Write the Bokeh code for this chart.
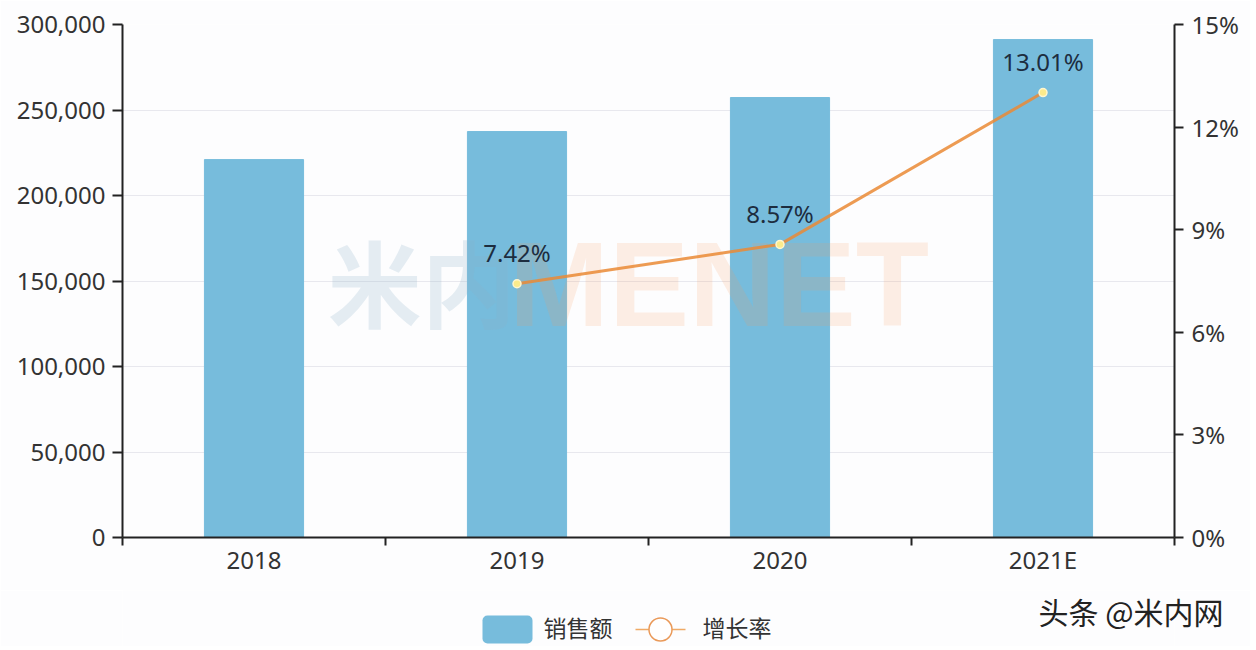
from bokeh.plotting import figure
from bokeh.layouts import column
from bokeh.models import ColumnDataSource, Range1d, LinearAxis, FixedTicker, NumeralTickFormatter
from bokeh.core.properties import value
from bokeh.embed import file_html
from bokeh.resources import INLINE

categories = ["2018", "2019", "2020", "2021E"]
positions = [0.5, 1.5, 2.5, 3.5]
sales = [221000, 237400, 257300, 291200]
growth = [float("nan"), 7.42, 8.57, 13.01]
growth_labels = ["", "7.42%", "8.57%", "13.01%"]
left_ticks = [0, 50000, 100000, 150000, 200000, 250000, 300000]
right_ticks = [0, 3, 6, 9, 12, 15]
slot_edges = [0, 1, 2, 3, 4]
legend_names = ["销售额", "增长率"]

LATIN = "Noto Sans"
CJK = "Noto Sans CJK SC"
INK = "#333333"
AXIS = "#222222"
BAR = "#77bcdc"
LINE = "#ea8a35"
PAGE = "#fdfdfe"

p = figure(width=1250, height=590, output_backend="svg", toolbar_location=None,
           x_range=Range1d(0, 4), y_range=Range1d(0, 300000),
           min_border_left=122, min_border_right=76, min_border_top=24, min_border_bottom=53,
           outline_line_color=None, background_fill_color=PAGE, border_fill_color=PAGE)
p.extra_y_ranges["pct"] = Range1d(0, 15)

src = ColumnDataSource(dict(x=positions, sales=sales, growth=growth, label=growth_labels))

p.vbar(x="x", top="sales", width=0.377, source=src, color=BAR)

# watermark
p.text(x=[0.78], y=[150300], text=["米内"], text_align="left", text_baseline="middle",
       text_font=value(CJK), text_font_style="bold", text_font_size="94px",
       text_color="#8fb0c8", text_alpha=0.22)
p.text(x=[1.47], y=[148000], text=["MENET"], text_align="left", text_baseline="middle",
       text_font=value("Liberation Sans"), text_font_style="bold", text_font_size="120px",
       text_color="#f79a5e", text_alpha=0.16)

p.line(x="x", y="growth", source=src, y_range_name="pct", line_color=LINE, line_width=3,
       line_alpha=0.85)
p.scatter(x="x", y="growth", source=src, y_range_name="pct", size=8, fill_color="#fbeb8c",
          line_color="#fff6d0", line_width=1.5)
p.text(x="x", y="growth", text="label", source=src, y_range_name="pct", y_offset=-31,
       text_align="center", text_baseline="middle", text_color="#1d2d3f",
       text_font=value(LATIN), text_font_size="24px")

xa = p.xaxis[0]
xa.ticker = FixedTicker(ticks=positions, minor_ticks=slot_edges)
xa.major_label_overrides = {pos: cat for pos, cat in zip(positions, categories)}
xa.major_tick_line_color = None
xa.major_tick_out = 0
xa.major_tick_in = 0
xa.minor_tick_out = 8
xa.minor_tick_in = 0
xa.minor_tick_line_color = AXIS
xa.minor_tick_line_width = 2
xa.axis_line_color = AXIS
xa.axis_line_width = 2
xa.major_label_standoff = -3
xa.major_label_text_font = LATIN
xa.major_label_text_font_size = "24px"
xa.major_label_text_color = INK

ya = p.yaxis[0]
ya.ticker = FixedTicker(ticks=left_ticks)
ya.formatter = NumeralTickFormatter(format="0,0")

yb = LinearAxis(y_range_name="pct", ticker=FixedTicker(ticks=right_ticks))
p.add_layout(yb, "right")
yb.major_label_overrides = {t: f"{t}%" for t in right_ticks}

for a, out, standoff in ((ya, 10, 7), (yb, 9, 8)):
    a.minor_tick_line_color = None
    a.major_tick_out = out
    a.major_tick_in = 0
    a.major_tick_line_color = AXIS
    a.major_tick_line_width = 2
    a.axis_line_color = AXIS
    a.axis_line_width = 2
    a.major_label_standoff = standoff
    a.major_label_text_font = LATIN
    a.major_label_text_font_size = "24px"
    a.major_label_text_color = INK

p.xgrid.visible = False
p.ygrid[0].ticker = FixedTicker(ticks=left_ticks)
p.ygrid[0].grid_line_color = "#e8e8ee"
p.ygrid[0].grid_line_width = 1

# footer strip: legend and signature, scale in page pixels across the aligned frame
foot = figure(width=1250, height=56, output_backend="svg", toolbar_location=None,
              x_range=Range1d(122, 1174), y_range=Range1d(56, 0),
              min_border_left=122, min_border_right=76, min_border_top=0, min_border_bottom=0,
              outline_line_color=None, background_fill_color=PAGE, border_fill_color=PAGE)
foot.axis.visible = False
foot.grid.visible = False

foot.quad(left=[482], right=[532], top=[25], bottom=[53], fill_color=BAR, line_color=None,
          border_radius=5)
foot.text(x=[543], y=[36], text=[legend_names[0]], text_align="left", text_baseline="middle",
          text_font=value(CJK), text_font_size="23px", text_color=INK)
foot.line(x=[635, 685], y=[39, 39], line_color="#f0aa66", line_width=1.5)
foot.scatter(x=[660], y=[39], size=23, fill_color="#ffffff", line_color="#ea9a5a", line_width=1.5)
foot.text(x=[702], y=[36], text=[legend_names[1]], text_align="left", text_baseline="middle",
          text_font=value(CJK), text_font_size="23px", text_color=INK)
foot.text(x=[1038], y=[20], text=["头条 @米内网"], text_align="left", text_baseline="middle",
          text_font=value(CJK), text_font_size="30px", text_color="#222222", level="annotation")

layout = column(p, foot, spacing=0)
open("out.html", "w").write(file_html(layout, INLINE))
